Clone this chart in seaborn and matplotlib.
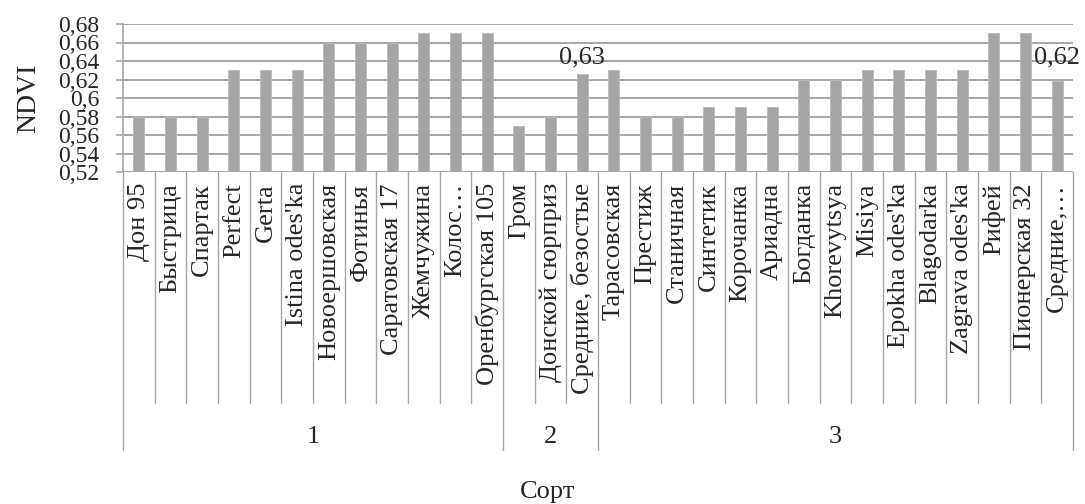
import matplotlib
matplotlib.use("Agg")
import matplotlib.pyplot as plt
import matplotlib.transforms as mtransforms
import seaborn as sns
import pandas as pd

# sorts, their group and NDVI values
varieties = ["Дон 95", "Быстрица", "Спартак", "Perfect", "Gerta", "Istina odes'ka",
             "Новоершовская", "Фотинья", "Саратовская 17", "Жемчужина", "Колос…",
             "Оренбургская 105", "Гром", "Донской сюрприз", "Средние, безостые",
             "Тарасовская", "Престиж", "Станичная", "Синтетик", "Корочанка", "Ариадна",
             "Богданка", "Khorevytsya", "Misiya", "Epokha odes'ka", "Blagodarka",
             "Zagrava odes'ka", "Рифей", "Пионерская 32", "Средние,…"]
groups = ["1"] * 12 + ["2"] * 3 + ["3"] * 15
ndvi = [0.58, 0.58, 0.58, 0.63, 0.63, 0.63, 0.66, 0.66, 0.66, 0.67, 0.67, 0.67,
        0.57, 0.58, 0.626,
        0.63, 0.58, 0.58, 0.59, 0.59, 0.59, 0.62, 0.62, 0.63, 0.63, 0.63, 0.63,
        0.67, 0.67, 0.618]
yticks = [0.52, 0.54, 0.56, 0.58, 0.60, 0.62, 0.64, 0.66, 0.68]
annot_idx = [14, 29]
annot_text = ["0,63", "0,62"]

df = pd.DataFrame({"sort": varieties, "group": groups, "ndvi": ndvi})

sns.set_style("white")
plt.rcParams["font.family"] = ["Liberation Serif", "DejaVu Serif"]

fig = plt.figure(figsize=(10.85, 5.04), dpi=100)
ax = fig.add_axes([123 / 1085, 1 - 172 / 504, 950 / 1085, 148 / 504])

sns.barplot(data=df, x="sort", y="ndvi", order=varieties, color="#A5A5A5",
            saturation=1, width=0.35, edgecolor="#B8B8B8", linewidth=0.6, ax=ax)

ax.set_ylim(0.52, 0.68)
ax.set_xlim(-0.5, len(varieties) - 0.5)
ax.set_yticks(yticks)
ax.set_yticklabels([f"{round(v, 2):g}".replace(".", ",") for v in yticks], fontsize=17)
ax.yaxis.grid(True, color="#A6A6A6", linewidth=1.4)
ax.set_axisbelow(True)
ax.tick_params(axis="y", length=5, width=1.2, color="#A6A6A6", pad=12, left=True)
for s in ["top", "right", "bottom"]:
    ax.spines[s].set_visible(False)
ax.spines["left"].set_color("#A6A6A6")
ax.spines["left"].set_linewidth(1.2)

ax.set_xticks(range(len(varieties)))
ax.set_xticklabels(varieties, rotation=90, va="top", ha="center", fontsize=19)
ax.tick_params(axis="x", length=0, pad=8)
ax.set_xlabel("")
ax.set_ylabel("NDVI", fontsize=20, labelpad=12)

# category separators and group brackets below the axis
trans = mtransforms.blended_transform_factory(ax.transData, ax.transAxes)
inner_bottom = (172 - 403) / 148
outer_bottom = (172 - 450) / 148
for i in range(len(varieties) + 1):
    x = i - 0.5
    is_group_edge = i == 0 or i == len(varieties) or groups[i] != groups[i - 1]
    ax.plot([x, x], [0, outer_bottom if is_group_edge else inner_bottom],
            transform=trans, color="#A6A6A6", linewidth=1, clip_on=False)

for g in ["1", "2", "3"]:
    idx = [i for i, gg in enumerate(groups) if gg == g]
    ax.text((idx[0] + idx[-1]) / 2, (172 - 437) / 148, g, transform=trans,
            ha="center", va="center", fontsize=19)

for i, t, dy in zip(annot_idx, annot_text, [4, 9]):
    ax.annotate(t, (i, ndvi[i]), xytext=(0, dy), textcoords="offset points",
                ha="center", va="bottom", fontsize=19)

fig.text(548 / 1085, 1 - 492 / 504, "Сорт", ha="center", va="center", fontsize=19)

plt.savefig("out.png", dpi=100)
